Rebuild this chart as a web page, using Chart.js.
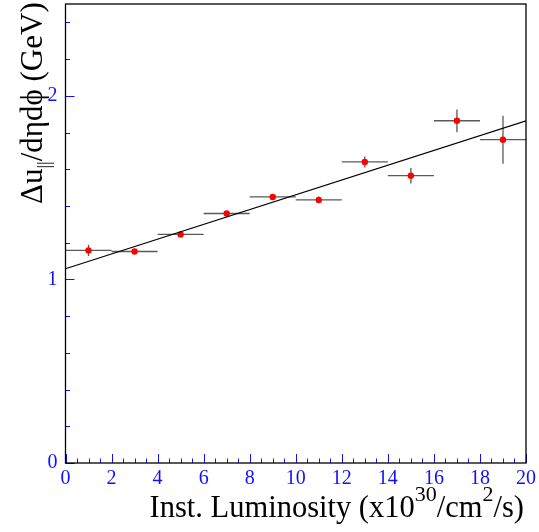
<!DOCTYPE html>
<html><head><meta charset="utf-8">
<script src="https://cdn.jsdelivr.net/npm/chart.js@4/dist/chart.umd.min.js"></script>
<style>html,body{margin:0;padding:0;background:#fff;} canvas{display:block;}</style>
</head><body>
<canvas id="c" width="539" height="532" style="width:539px;height:532px"></canvas>
<script>
// ---- data ----
const lumi    = [1, 3, 5, 7, 9, 11, 13, 15, 17, 19];
const lumiErr = [1, 1, 1, 1, 1, 1, 1, 1, 1, 1];
const du      = [1.158, 1.152, 1.245, 1.359, 1.449, 1.433, 1.640, 1.565, 1.864, 1.761];
const duErr   = [0.031, 0.008, 0.008, 0.008, 0.008, 0.018, 0.030, 0.042, 0.062, 0.131];
const fitX    = [0, 20];
const fitY    = [1.058, 1.864];
const xTickLabels = ['0','2','4','6','8','10','12','14','16','18','20'];
const yTickLabels = ['0','1','2'];

const BLUE = '#1010ff';
const SERIF = "'Liberation Serif', 'Times New Roman', Times, serif";

const rootPlugin = {
  id: 'rootStyle',
  beforeDatasetsDraw(chart) {
    const ctx = chart.ctx, xs = chart.scales.x, ys = chart.scales.y;
    ctx.save();
    ctx.strokeStyle = '#5a5a5a';
    ctx.lineWidth = 1.3;
    for (let i = 0; i < lumi.length; i++) {
      const px = xs.getPixelForValue(lumi[i]);
      const py = ys.getPixelForValue(du[i]);
      ctx.beginPath();
      ctx.moveTo(xs.getPixelForValue(lumi[i] - lumiErr[i]), py);
      ctx.lineTo(xs.getPixelForValue(lumi[i] + lumiErr[i]), py);
      ctx.moveTo(px, ys.getPixelForValue(du[i] - duErr[i]));
      ctx.lineTo(px, ys.getPixelForValue(du[i] + duErr[i]));
      ctx.stroke();
    }
    ctx.restore();
  },
  afterDraw(chart) {
    const ctx = chart.ctx, a = chart.chartArea, xs = chart.scales.x, ys = chart.scales.y;
    ctx.save();
    ctx.strokeStyle = BLUE;
    ctx.lineWidth = 1;
    for (let v = 0; v <= 20.001; v += 0.5) {
      const px = Math.round(xs.getPixelForValue(v)) + 0.5;
      const len = (Math.abs(v / 2 - Math.round(v / 2)) < 1e-6) ? 9 : 4.5;
      ctx.beginPath(); ctx.moveTo(px, a.bottom); ctx.lineTo(px, a.bottom - len); ctx.stroke();
    }
    for (let v = 0; v <= 2.5001; v += 0.2) {
      const py = Math.round(ys.getPixelForValue(v)) + 0.5;
      const len = (Math.abs(v - Math.round(v)) < 1e-6) ? 9 : 4.5;
      ctx.beginPath(); ctx.moveTo(a.left, py); ctx.lineTo(a.left + len, py); ctx.stroke();
    }
    ctx.strokeStyle = '#000';
    ctx.lineWidth = 1.3;
    ctx.strokeRect(a.left, a.top, a.right - a.left, a.bottom - a.top);

    ctx.fillStyle = '#000';
    ctx.textBaseline = 'alphabetic';
    const big = '30.5px ' + SERIF, sup = '22px ' + SERIF;
    const parts = [
      ['Inst. Luminosity (x10', big, 0],
      ['30', sup, -16],
      ['/cm', big, 0],
      ['2', sup, -16],
      ['/s)', big, 0]
    ];
    let total = 0;
    parts.forEach(p => { ctx.font = p[1]; total += ctx.measureText(p[0]).width; });
    let x = 524 - total;
    const base = 517;
    parts.forEach(p => { ctx.font = p[1]; ctx.fillText(p[0], x, base + p[2]); x += ctx.measureText(p[0]).width; });

    ctx.save();
    ctx.translate(42, 204);
    ctx.rotate(-Math.PI / 2);
    const ybig = '31px ' + SERIF;
    const yparts = [
      ['\u0394u', ybig, 0],
      ['||', '18px ' + SERIF, 8],
      ['/d\u03b7d\u03d5 (GeV)', ybig, 0]
    ];
    let yx = 0;
    yparts.forEach(p => { ctx.font = p[1]; ctx.fillText(p[0], yx, p[2]); yx += ctx.measureText(p[0]).width; });
    ctx.restore();
    ctx.restore();
  }
};

function build() {
  new Chart(document.getElementById('c'), {
    type: 'scatter',
    data: {
      datasets: [
        {
          label: 'data',
          data: lumi.map((v, i) => ({ x: v, y: du[i] })),
          pointRadius: 3.2,
          pointBackgroundColor: '#ff0000',
          pointBorderWidth: 0,
          showLine: false,
          order: 1
        },
        {
          label: 'fit',
          type: 'line',
          data: fitX.map((v, i) => ({ x: v, y: fitY[i] })),
          borderColor: '#000',
          borderWidth: 1.2,
          pointRadius: 0,
          fill: false,
          order: 0
        }
      ]
    },
    options: {
      responsive: false,
      animation: false,
      devicePixelRatio: 1,
      layout: { padding: { top: 3, right: 13, left: 0, bottom: 0 } },
      plugins: { legend: { display: false }, tooltip: { enabled: false } },
      scales: {
        x: {
          type: 'linear', min: 0, max: 20,
          grid: { display: false, drawTicks: false },
          border: { display: false },
          ticks: {
            stepSize: 2, autoSkip: false, maxRotation: 0, includeBounds: false,
            color: BLUE, font: { family: SERIF, size: 20 }, padding: 4,
            callback: (v) => { const s = String(v); return xTickLabels.includes(s) ? s : ''; }
          },
          afterFit(s) { s.height = 69; s.paddingLeft = 0; s.paddingRight = 0; }
        },
        y: {
          type: 'linear', min: 0, max: 2.5,
          grid: { display: false, drawTicks: false },
          border: { display: false },
          ticks: {
            stepSize: 1, autoSkip: false, includeBounds: false,
            color: BLUE, font: { family: SERIF, size: 20 }, padding: 8,
            callback: (v) => { const s = String(v); return yTickLabels.includes(s) ? s : ''; }
          },
          afterFit(s) { s.width = 65.5; s.paddingTop = 0; s.paddingBottom = 0; }
        }
      }
    },
    plugins: [rootPlugin]
  });
}
build();
</script>
</body></html>
